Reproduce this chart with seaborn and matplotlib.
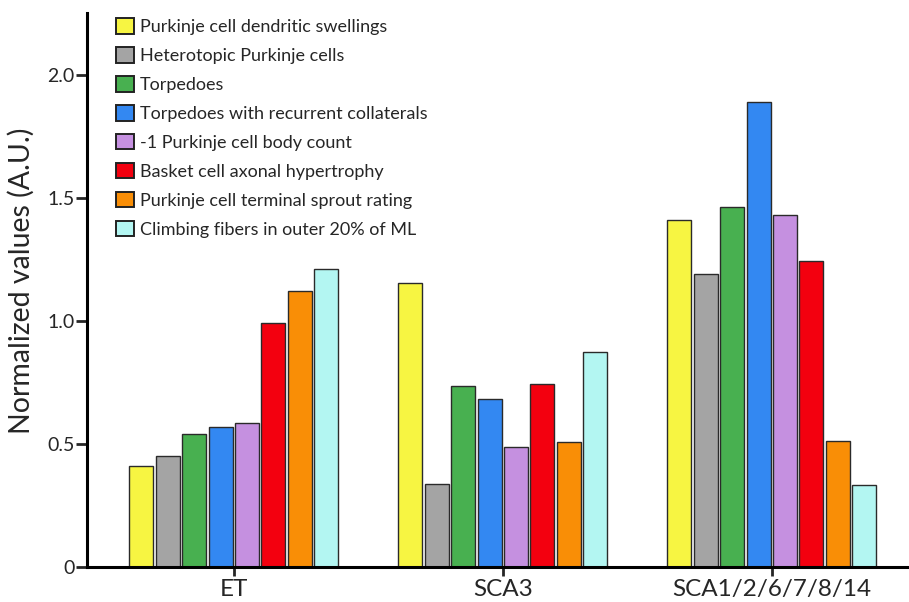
import matplotlib
matplotlib.use("Agg")
import matplotlib.pyplot as plt
import seaborn as sns
import pandas as pd

groups = ["ET", "SCA3", "SCA1/2/6/7/8/14"]
features = [
    "Purkinje cell dendritic swellings",
    "Heterotopic Purkinje cells",
    "Torpedoes",
    "Torpedoes with recurrent collaterals",
    "-1 Purkinje cell body count",
    "Basket cell axonal hypertrophy",
    "Purkinje cell terminal sprout rating",
    "Climbing fibers in outer 20% of ML",
]
et_values = [0.41, 0.45, 0.54, 0.57, 0.585, 0.99, 1.12, 1.21]
sca3_values = [1.155, 0.337, 0.737, 0.682, 0.487, 0.745, 0.508, 0.872]
sca_multi_values = [1.41, 1.188, 1.463, 1.887, 1.43, 1.243, 0.512, 0.332]
colors = ["#F7F542", "#A4A4A4", "#48B050", "#3388F2", "#C590E0",
          "#F3000F", "#F98E06", "#B3F6F2"]

rows = []
for g, vals in zip(groups, [et_values, sca3_values, sca_multi_values]):
    for f, v in zip(features, vals):
        rows.append({"group": g, "feature": f, "value": v})
df = pd.DataFrame(rows)

sns.set_style("ticks")
plt.rcParams["font.family"] = ["Lato", "DejaVu Sans"]

W, H = 909, 602
fig = plt.figure(figsize=(W / 100, H / 100), dpi=100)
left, right, top, bottom = 87, 909, 13, 567
ax = fig.add_axes([left / W, (H - bottom) / H, (right - left) / W, (bottom - top) / H])

sns.barplot(data=df, x="group", y="value", hue="feature", hue_order=features,
            order=groups, palette=colors, width=0.785, gap=0.09,
            edgecolor="#2a2a2a", linewidth=1.0, saturation=1, ax=ax)

ax.set_xlim(-0.546, 2.51)
ax.set_ylim(0, 2.25)
ax.set_yticks([0, 0.5, 1.0, 1.5, 2.0])
ax.set_yticklabels(["0", "0.5", "1.0", "1.5", "2.0"])
ax.set_xlabel("")
ax.set_ylabel("Normalized values (A.U.)", fontsize=20.5)
ax.yaxis.set_label_coords(-52 / (right - left), (bottom - 281) / (bottom - top))

for s in ["top", "right"]:
    ax.spines[s].set_visible(False)
for s in ["left", "bottom"]:
    ax.spines[s].set_linewidth(2.2)
    ax.spines[s].set_color("black")
ax.tick_params(axis="y", length=8, width=2, labelsize=14, pad=1)
ax.tick_params(axis="x", length=6.5, width=2, labelsize=17.5, pad=2)

leg = ax.legend(loc="upper left", bbox_to_anchor=(22 / (right - left), 1.0 + 2 / (bottom - top)),
                frameon=False, fontsize=13, handlelength=1.0, handleheight=0.95,
                handletextpad=0.3, labelspacing=0.66, borderaxespad=0)
for h in leg.legend_handles:
    h.set_edgecolor("#222222")
    h.set_linewidth(1.4)

fig.savefig("out.png", dpi=100)
